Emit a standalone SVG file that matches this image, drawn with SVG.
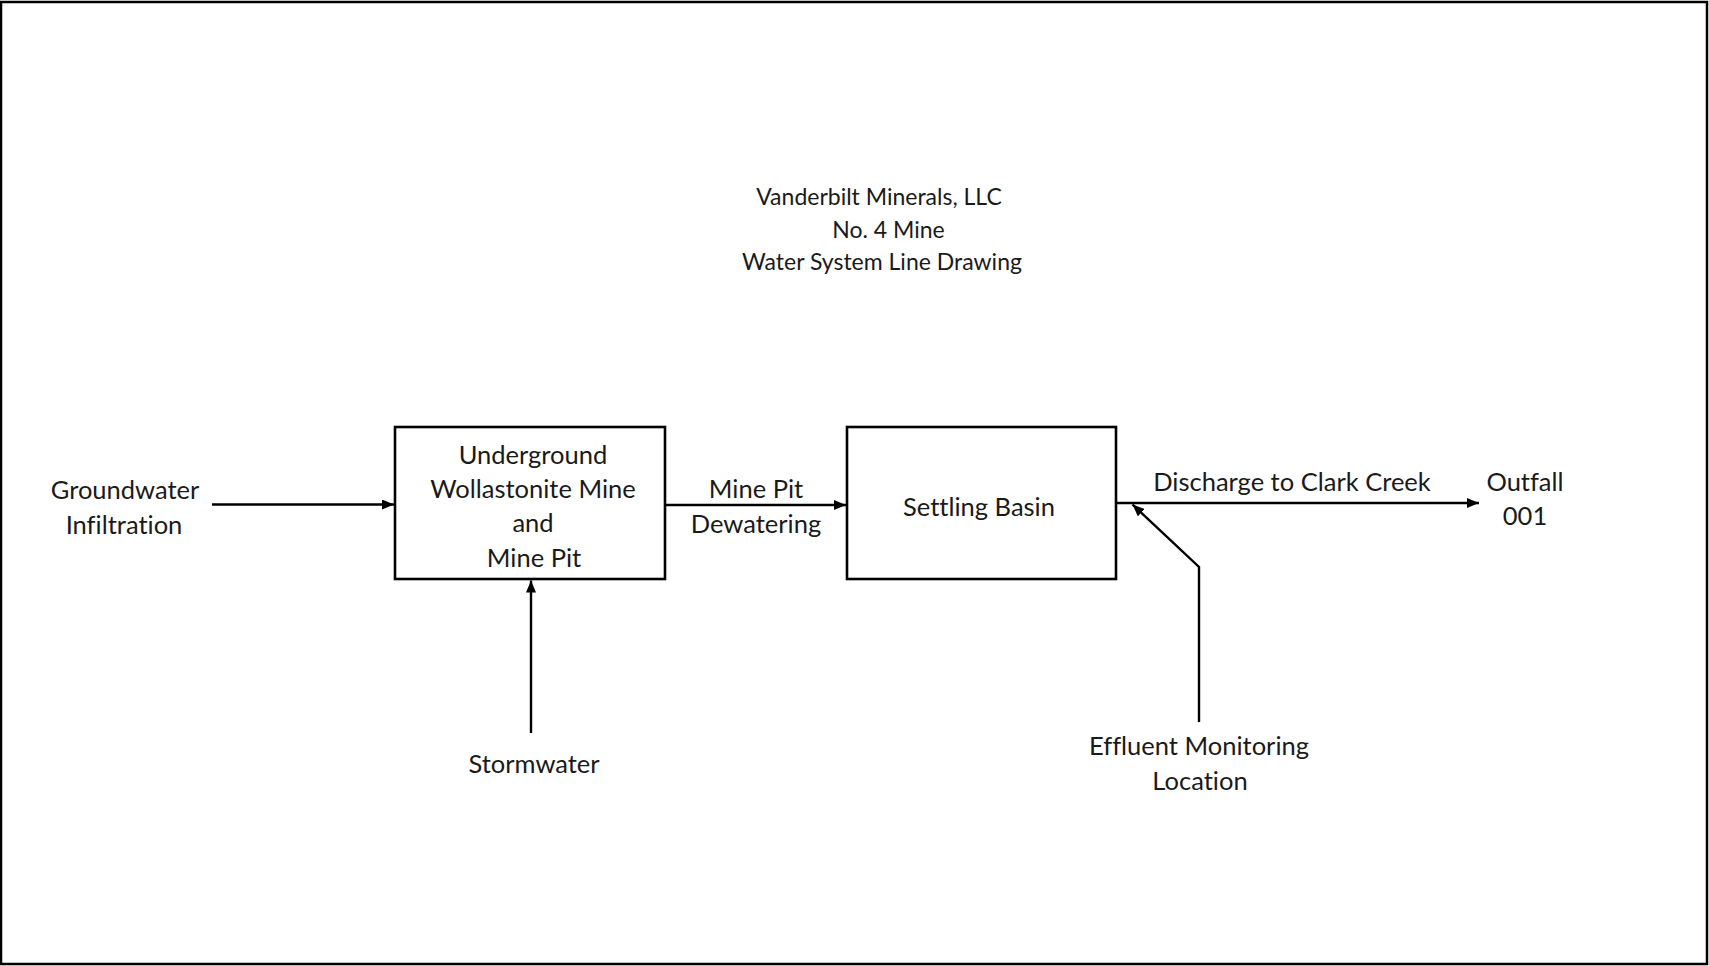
<svg xmlns="http://www.w3.org/2000/svg" width="1709" height="966" viewBox="0 0 1709 966">
<style>
text{font-family:Lato,"Open Sans","Liberation Sans",sans-serif;font-size:25.5px;fill:#1a1a1a;text-anchor:middle;font-variant-ligatures:none}
.ttl{font-size:23px}
.box{fill:#fff;stroke:#000;stroke-width:2.6}
.ln{fill:none;stroke:#000;stroke-width:2.4}
</style>
<defs>
<marker id="ah" markerUnits="userSpaceOnUse" markerWidth="12" markerHeight="10" viewBox="0 0 12 10" refX="12" refY="5" orient="auto">
<path d="M0,0 L12,5 L0,10 Z" fill="#000"/>
</marker>
</defs>
<rect x="1" y="2" width="1706" height="962" fill="#fff" stroke="#000" stroke-width="2.5"/>
<g id="title">
<text class="ttl" x="879" y="205">Vanderbilt Minerals, LLC</text>
<text class="ttl" x="888.5" y="238">No. 4 Mine</text>
<text class="ttl" x="882" y="270">Water System Line Drawing</text>
</g>
<g id="connectors">
<line class="ln" x1="212" y1="504.5" x2="394" y2="504.5" marker-end="url(#ah)"/>
<line class="ln" x1="665" y1="505" x2="846" y2="505" marker-end="url(#ah)"/>
<line class="ln" x1="531" y1="733" x2="531" y2="580.5" marker-end="url(#ah)"/>
<line class="ln" x1="1116" y1="503" x2="1479" y2="503" marker-end="url(#ah)"/>
<polyline class="ln" points="1199,722 1199,567 1132.5,504.5" marker-end="url(#ah)"/>
</g>
<g id="mine">
<rect class="box" x="395" y="427" width="270" height="152"/>
<text x="533" y="464">Underground</text>
<text x="533" y="498">Wollastonite Mine</text>
<text x="533" y="532">and</text>
<text x="534" y="566.5">Mine Pit</text>
</g>
<g id="basin">
<rect class="box" x="847" y="427" width="269" height="152"/>
<text x="979" y="516">Settling Basin</text>
</g>
<g id="groundwater">
<text x="125" y="499">Groundwater</text>
<text x="124" y="534">Infiltration</text>
</g>
<g id="dewatering">
<text x="756" y="498">Mine Pit</text>
<text x="756" y="533">Dewatering</text>
</g>
<g id="stormwater">
<text x="534" y="773">Stormwater</text>
</g>
<g id="discharge">
<text x="1292" y="491">Discharge to Clark Creek</text>
</g>
<g id="outfall">
<text x="1525" y="491">Outfall</text>
<text x="1525" y="525">001</text>
</g>
<g id="effluent">
<text x="1199" y="755">Effluent Monitoring</text>
<text x="1200" y="790">Location</text>
</g>
</svg>
